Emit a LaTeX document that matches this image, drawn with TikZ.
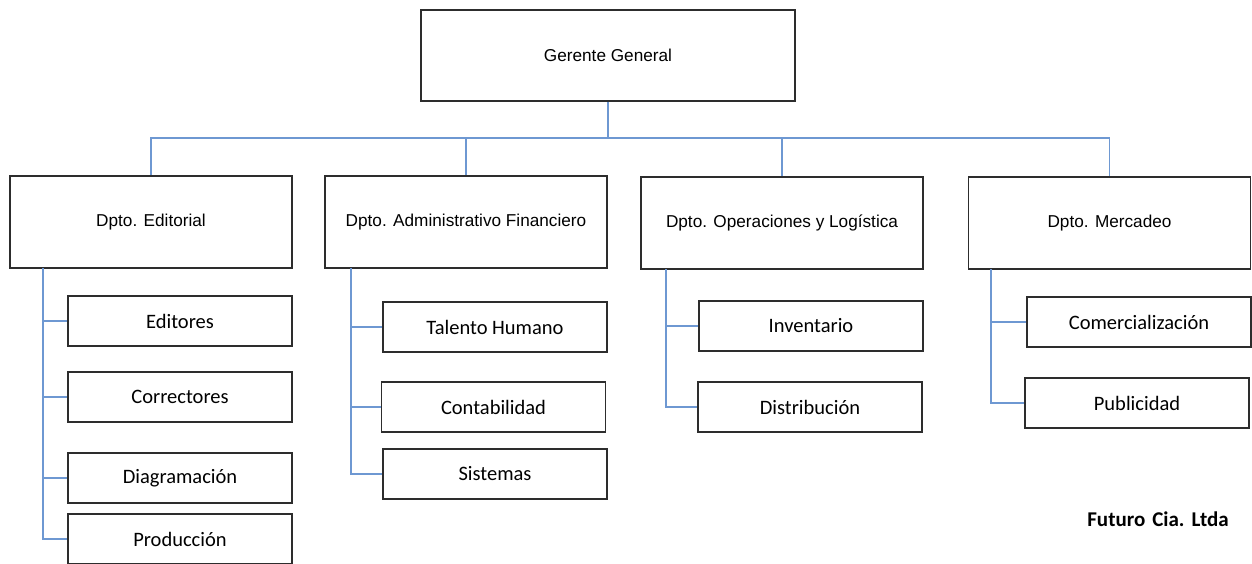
\documentclass[tikz,border=0pt]{standalone}
\usepackage{fontspec}
\setmainfont{Liberation Sans}
\newfontfamily\subfont{Carlito}
\definecolor{boxline}{RGB}{45,45,45}
\definecolor{linkblue}{RGB}{110,152,210}
\begin{document}
\begin{tikzpicture}[x=1pt,y=-1pt,
  head/.style={draw=boxline,line width=1.3pt,fill=white,rectangle,inner sep=0pt,
    font=\fontsize{17.2}{20}\selectfont},
  unit/.style={draw=boxline,line width=1.3pt,fill=white,rectangle,inner sep=0pt,
    minimum width=224pt,minimum height=50pt,font=\subfont\fontsize{20.5}{24}\selectfont},
  link/.style={draw=linkblue,line width=1.3pt}]
\useasboundingbox (0,0) rectangle (1252,563);

% top level
\node[head,minimum width=374pt,minimum height=91pt] (gg) at (608,55.5) {Gerente General};

% departments
\node[head,minimum width=282pt,minimum height=92pt] (ed) at (151,222) {Dpto. Editorial};
\node[head,minimum width=282pt,minimum height=92pt] (ad) at (466,222) {Dpto. Administrativo Financiero};
\node[head,minimum width=282pt,minimum height=92pt] (op) at (782,223) {Dpto. Operaciones y Logística};
\node[head,minimum width=282pt,minimum height=92pt] (me) at (1109.5,223) {Dpto. Mercadeo};

% units of each department
\node[unit] (e1) at (180,321) {Editores};
\node[unit] (e2) at (180,397) {Correctores};
\node[unit] (e3) at (180,478) {Diagramación};
\node[unit] (e4) at (180,539) {Producción};

\node[unit] (a1) at (495,327) {Talento Humano};
\node[unit] (a2) at (493.5,407) {Contabilidad};
\node[unit] (a3) at (495,474) {Sistemas};

\node[unit] (o1) at (811,326) {Inventario};
\node[unit] (o2) at (810,407) {Distribución};

\node[unit] (m1) at (1139,322) {Comercialización};
\node[unit] (m2) at (1137,403) {Publicidad};

% connectors from the general manager
\coordinate (bus) at (608,138);
\draw[link] (gg.south) -- (bus);
\draw[link] (bus) -| (ed.north);
\draw[link] (bus) -| (ad.north);
\draw[link] (bus) -| (op.north);
\draw[link] (bus) -| (me.north);

% department spines
\coordinate (edS) at (43,268);
\coordinate (adS) at (351,268);
\coordinate (opS) at (666,269);
\coordinate (meS) at (991,269);
\foreach \u in {e1,e2,e3,e4} \draw[link] (edS) |- (\u.west);
\foreach \u in {a1,a2,a3} \draw[link] (adS) |- (\u.west);
\foreach \u in {o1,o2} \draw[link] (opS) |- (\u.west);
\foreach \u in {m1,m2} \draw[link] (meS) |- (\u.west);

% company name
\node[font=\subfont\bfseries\fontsize{21}{25}\selectfont] (co) at (1158,519) {Futuro\,\,Cia.\,\,Ltda};
\end{tikzpicture}
\end{document}
